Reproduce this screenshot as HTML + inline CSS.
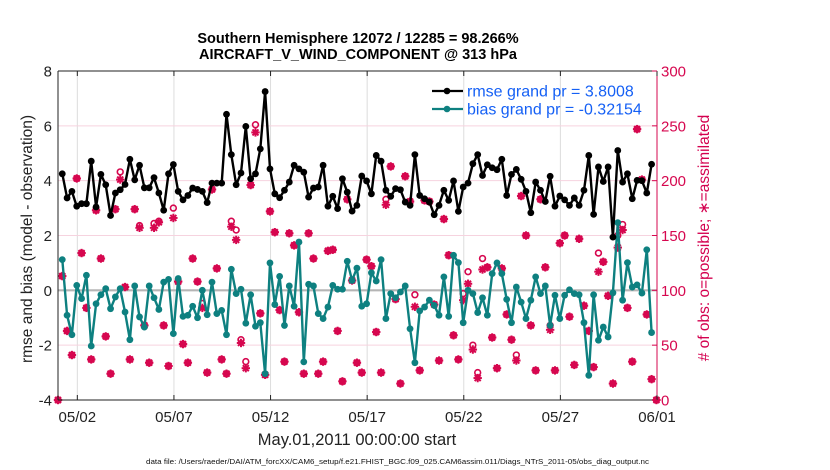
<!DOCTYPE html>
<html><head><meta charset="utf-8"><style>
html,body{margin:0;padding:0;background:#fff;}
svg{display:block;font-family:"Liberation Sans",sans-serif;}
</style></head><body>
<svg id="chart" width="830" height="470" viewBox="0 0 830 470" xmlns="http://www.w3.org/2000/svg">
<rect x="0" y="0" width="830" height="470" fill="#fff"/>
<g id="grid"></g>
<g id="series"></g>
<g id="axes"></g>
<text x="358" y="43" text-anchor="middle" font-size="14.5" font-weight="bold">Southern Hemisphere 12072 / 12285 = 98.266%</text>
<text x="358" y="59" text-anchor="middle" font-size="14.5" font-weight="bold">AIRCRAFT_V_WIND_COMPONENT @ 313 hPa</text>
<text x="357" y="445" text-anchor="middle" font-size="16.5" fill="#222">May.01,2011 00:00:00 start</text>
<text transform="translate(32,239) rotate(-90)" text-anchor="middle" font-size="15.5" fill="#222">rmse and bias (model - observation)</text>
<text transform="translate(709,238) rotate(-90)" text-anchor="middle" font-size="15.5" fill="#D4004F">#&#160;of obs: o=possible; &#8727;=assimilated</text>
<text x="146" y="464" font-size="7.5" fill="#111" textLength="503" lengthAdjust="spacingAndGlyphs">data file: /Users/raeder/DAI/ATM_forcXX/CAM6_setup/f.e21.FHIST_BGC.f09_025.CAM6assim.011/Diags_NTrS_2011-05/obs_diag_output.nc</text>
<g id="legend"></g>
</svg>
<script>
var rmseVals = [4.25,3.37,3.61,3.07,3.16,3.16,4.71,3.04,4.23,3.85,2.73,3.55,3.67,3.86,4.78,4.03,4.56,3.74,3.74,4.11,3.55,2.92,4.25,4.59,3.61,3.30,3.46,3.73,3.68,3.61,3.20,3.91,3.91,3.91,6.42,4.95,3.85,4.28,5.98,
4.07,4.25,5.16,7.25,4.43,3.52,3.38,3.65,3.95,4.56,4.43,4.31,3.40,3.73,3.77,4.56,3.07,3.43,2.98,4.07,3.58,2.89,3.10,4.17,3.99,3.52,4.92,4.71,3.65,3.43,3.71,3.67,3.22,3.10,4.95,3.46,3.34,3.22,2.76,3.10,3.65,3.28,
3.99,2.88,3.77,3.91,4.62,4.95,4.19,4.58,4.47,4.40,4.78,3.46,4.23,4.41,4.05,3.61,2.83,3.95,3.65,3.24,4.16,3.07,3.44,3.30,3.10,3.37,3.10,3.65,4.92,2.77,4.50,3.97,4.50,1.94,5.10,3.95,4.25,3.34,4.01,4.00,3.55,4.60];
var biasVals = [1.12,-0.91,-1.62,0.18,-0.30,0.55,-2.03,-0.49,-0.16,0.06,-0.67,-0.24,0.06,-0.79,-1.80,0.16,-0.97,-1.34,0.16,-0.27,-0.70,0.30,0.40,-1.58,0.43,-0.95,-0.91,-0.58,-1.00,0.00,-0.89,0.30,-0.85,-0.73,-1.62,0.77,-0.12,0.04,-1.20,
-0.16,-1.31,-1.18,-3.04,1.00,-0.52,0.51,-1.28,0.16,-0.58,1.76,-2.61,0.22,0.16,-0.85,-1.03,-0.61,0.18,0.04,0.04,1.06,0.36,0.81,-0.58,-0.49,0.64,0.34,1.12,-1.03,-0.12,-0.27,-0.06,0.16,-1.40,-2.64,-0.75,-0.61,-0.36,-0.55,-0.91,0.49,-0.95,
1.28,1.01,-1.18,0.00,-0.12,-0.81,-0.27,-0.91,0.61,1.00,0.61,-0.33,-1.18,0.12,-0.43,-1.03,-0.36,0.49,-0.12,0.16,-1.28,-0.18,-1.03,-0.18,0.02,-0.12,-0.16,-1.18,-3.10,-0.16,-1.82,-1.34,-1.70,-0.09,2.47,-0.36,1.01,0.12,0.20,-0.10,1.48,-1.54];
var assimVals = [0,113,63,41,202,134,84,37,173,129,58,24,174,201,103,37,174,157,68,34,157,162,68,31,166,108,51,34,129,108,84,25,192,120,37,24,158,146,52,29,
196,244,79,23,172,153,82,35,152,141,80,24,152,129,24,35,136,137,63,17,183,109,34,25,128,122,62,25,178,213,92,15,204,181,85,27,182,181,87,36,165,132,
59,37,91,106,46,20,119,121,57,29,120,78,55,36,186,150,68,27,183,121,64,27,143,150,76,32,147,86,63,30,117,126,95,15,139,155,84,35,247,201,78,19,0];
var possVals = [0,113,63,41,202,134,84,37,173,129,58,24,174,208,103,37,174,159,68,34,161,163,68,31,175,108,51,34,129,108,88,25,192,120,37,24,163,155,55,35,
196,251,79,23,172,153,82,35,152,141,80,24,152,129,24,35,136,137,63,17,183,109,34,25,128,122,62,25,183,213,92,15,204,181,96,27,182,181,87,36,165,132,
59,37,97,117,50,25,129,121,57,29,120,78,55,41,186,150,68,27,183,121,68,27,143,150,76,32,147,86,63,30,134,126,95,15,150,160,84,35,247,201,78,19,0];
var xTickLabels = ["05/02","05/07","05/12","05/17","05/22","05/27","06/01"];
var xTickDays = [1,6,11,16,21,26,31];
var yLeftTicks = [-4,-2,0,2,4,6,8];
var yRightTicks = [0,50,100,150,200,250,300];
var legendLabels = ["rmse grand pr = 3.8008","bias grand pr = -0.32154"];

var X0=58,X1=657,Y0=71,Y1=400, DAYS=31;
var NS="http://www.w3.org/2000/svg";
function xScale(d){return X0+(d/DAYS)*(X1-X0);}
function yL(v){return Y1-(v+4)/12*(Y1-Y0);}
function yR(v){return Y1-v/300*(Y1-Y0);}
function tSeries(i){return 0.22+0.25*i;}
function tObs(i){return Math.max(0,0.22+0.25*(i-1));}
function mk(tag,attrs,parent){var e=document.createElementNS(NS,tag);for(var k in attrs)e.setAttribute(k,attrs[k]);parent.appendChild(e);return e;}
var grid=document.getElementById('grid'),ser=document.getElementById('series'),axes=document.getElementById('axes'),leg=document.getElementById('legend');
var MAG="#D6074F",TEAL="#0E8080";

xTickDays.forEach(function(d,i){
  var l=mk('line',{x1:xScale(d),x2:xScale(d),y1:Y0,y2:Y1,stroke:'#dcdcdc','stroke-width':1},grid);
  
  
});
yRightTicks.forEach(function(v){
  if(v===0||v===300)return;
  var l=mk('line',{x1:X0,x2:X1,y1:yR(v),y2:yR(v),stroke:'#F6D3DF','stroke-width':1},grid);
  
  
});
var zl=mk('line',{x1:X0,x2:X1,y1:yL(0),y2:yL(0),stroke:'#b5b5b5','stroke-width':2.2},grid);



function star(cx,cy,g){
  var s=4.2,d=3.0;
  mk('line',{x1:cx-s,y1:cy,x2:cx+s,y2:cy,stroke:MAG,'stroke-width':2},g);
  mk('line',{x1:cx,y1:cy-s,x2:cx,y2:cy+s,stroke:MAG,'stroke-width':2},g);
  mk('line',{x1:cx-d,y1:cy-d,x2:cx+d,y2:cy+d,stroke:MAG,'stroke-width':2},g);
  mk('line',{x1:cx-d,y1:cy+d,x2:cx+d,y2:cy-d,stroke:MAG,'stroke-width':2},g);
}
possVals.forEach(function(v,i){
  var c=mk('circle',{cx:xScale(tObs(i)),cy:yR(v),r:2.9,fill:'none',stroke:MAG,'stroke-width':1.6},ser);
  
  
});
assimVals.forEach(function(v,i){
  var g=mk('g',{},ser);
  
  
  star(xScale(tObs(i)),yR(v),g);
});

function drawLine(vals,color,name){
  var pts=vals.map(function(v,i){return xScale(tSeries(i)).toFixed(1)+','+yL(v).toFixed(1);}).join(' ');
  var pl=mk('polyline',{points:pts,fill:'none',stroke:color,'stroke-width':2.4,'stroke-linejoin':'round'},ser);
  
  
  vals.forEach(function(v,i){
    var c=mk('circle',{cx:xScale(tSeries(i)),cy:yL(v),r:3.4,fill:color},ser);
    
    
  });
}
drawLine(biasVals,TEAL,'bias');
drawLine(rmseVals,'#000','rmse');

var la=mk('line',{x1:X0,x2:X0,y1:Y0,y2:Y1,stroke:'#222','stroke-width':1},axes);


var ra=mk('line',{x1:X1,x2:X1,y1:Y0,y2:Y1,stroke:MAG,'stroke-width':1},axes);


var ta=mk('line',{x1:X0,x2:X1,y1:Y0,y2:Y0,stroke:'#222','stroke-width':1},axes);


var ba=mk('line',{x1:X0,x2:X1,y1:Y1,y2:Y1,stroke:'#222','stroke-width':1},axes);


xTickDays.forEach(function(d,i){
  var t=mk('text',{x:xScale(d),y:422,'text-anchor':'middle','font-size':15,fill:'#222'},axes);
  t.textContent=xTickLabels[i];
  
  
  mk('line',{x1:xScale(d),x2:xScale(d),y1:Y1,y2:Y1-5,stroke:'#222'},axes);
  mk('line',{x1:xScale(d),x2:xScale(d),y1:Y0,y2:Y0+5,stroke:'#222'},axes);
});
yLeftTicks.forEach(function(v){
  var t=mk('text',{x:52,y:yL(v)+5.5,'text-anchor':'end','font-size':15,fill:'#222'},axes);
  t.textContent=String(v);
  
  
});
yRightTicks.forEach(function(v){
  var t=mk('text',{x:661,y:yR(v)+5.5,'font-size':15,fill:MAG},axes);
  t.textContent=String(v);
  
  
  mk('line',{x1:X1,x2:X1-5,y1:yR(v),y2:yR(v),stroke:MAG},axes);
});

var legY=[91,109],legC=['#000',TEAL];
legendLabels.forEach(function(lab,i){
  var l=mk('line',{x1:432,x2:463,y1:legY[i],y2:legY[i],stroke:legC[i],'stroke-width':2.2},leg);
  
  
  mk('circle',{cx:447,cy:legY[i],r:3.3,fill:legC[i]},leg);
  var t=mk('text',{x:467,y:legY[i]+5.5,'font-size':16,fill:'#1560F5'},leg);
  t.textContent=lab;
  
  
});
</script>
</body></html>
